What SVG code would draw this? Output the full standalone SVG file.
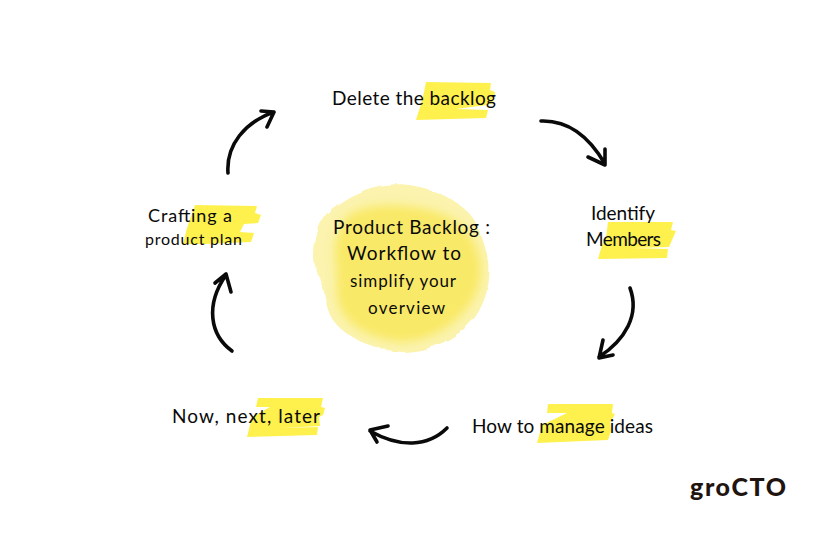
<svg xmlns="http://www.w3.org/2000/svg" width="840" height="560" viewBox="0 0 840 560">
<style>
text{font-family:"Lato","Noto Sans",sans-serif;fill:#0a0a0a;font-size:19px}
.hl{fill:#fef14e}
.arrow{fill:none;stroke:#0a0a0a;stroke-width:3.6;stroke-linecap:round;stroke-linejoin:round}
</style>
<defs>
<filter id="rough" x="-10%" y="-10%" width="120%" height="120%"><feTurbulence type="fractalNoise" baseFrequency="0.05" numOctaves="3" seed="4"/><feDisplacementMap in="SourceGraphic" scale="5"/></filter>
<filter id="soft" x="-15%" y="-15%" width="130%" height="130%"><feGaussianBlur stdDeviation="5"/></filter>
</defs>
<rect width="840" height="560" fill="#fff"/>
<g id="center">
<path filter="url(#rough)" fill="#fbf3ae" d="M385 185C412 181 448 192 468 212C480 226 483 240 489 262C491 282 486 300 476 316C460 338 430 352 402 352C380 350 352 342 336 324C324 310 326 292 320 278C310 264 312 246 318 226C326 208 358 188 385 185Z"/>
<path filter="url(#soft)" fill="#f9e967" d="M350 214C372 202 402 204 430 210C454 216 472 230 478 252C486 274 478 296 464 312C446 332 424 342 400 342C378 340 352 330 342 312C334 298 338 282 336 266C332 246 338 224 350 214Z"/>
<text x="333" y="234" textLength="157">Product Backlog :</text>
<text x="347" y="260" textLength="114">Workflow to</text>
<text x="350" y="287" textLength="106" style="font-size:17px">simplify your</text>
<text x="368" y="314" textLength="77" style="font-size:17px">overview</text>
</g>
<g id="node-delete">
<path class="hl" d="M426 82L491 83L490 90L495 92L493 103L487 105L456 109L488 110L486 118L416 120L421 104L424 92Z"/>
<text x="332" y="105" textLength="164">Delete the backlog</text>
</g>
<g id="node-identify">
<path class="hl" d="M608 222L673 222L671 230L676 231L669 247L632 248L668 249L667 258L598 259L602 245L606 238L607 230Z"/>
<text x="591" y="220" textLength="64">Identify</text>
<text x="586" y="246" textLength="75">Members</text>
</g>
<g id="node-manage">
<path class="hl" d="M548 404L613 404L612 413L615 414L610 423L611 431L608 440L537 443L542 425L567 413L547 413Z"/>
<text x="472" y="433" textLength="181">How to manage ideas</text>
</g>
<g id="node-now">
<path class="hl" d="M258 398L323 398L321 407L325 408L323 415L319 417L320 426L280 428L318 427L317 435L247 437L252 417L270 407L256 407Z"/>
<text x="172" y="423" textLength="148">Now, next, later</text>
</g>
<g id="node-crafting">
<path class="hl" d="M195 205L257 206L255 213L261 215L258 223L244 224L240 232L254 233L251 242L205 244L183 244L187 228Z"/>
<text x="148" y="222" textLength="84" style="font-size:18px">Crafting a</text>
<text x="145" y="245" textLength="97" style="font-size:16px">product plan</text>
</g>
<g id="connectors">
<path class="arrow" d="M541 121C570 120 590 138 605 164M588 157L605 165L605 149"/>
<path class="arrow" d="M630 288C640 315 625 340 599 357M603 340L599 358L613 355"/>
<path class="arrow" d="M447 428C428 447 400 448 370 431M388 426L370 430L377 442"/>
<path class="arrow" d="M232 351C210 335 205 305 226 275M215 283L226 274L231 292"/>
<path class="arrow" d="M228 173C226 145 245 122 274 112M261 111L274 112L267 127"/>
</g>
<g id="logo">
<text x="690" y="496" textLength="96" style="font-size:25px;font-weight:900;fill:#1f1410">groCTO</text>
</g>
</svg>
